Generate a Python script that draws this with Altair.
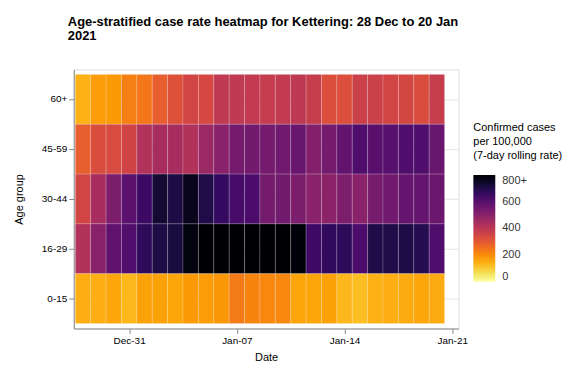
import altair as alt
import pandas as pd

dates = ["2020-12-28", "2020-12-29", "2020-12-30", "2020-12-31",
         "2021-01-01", "2021-01-02", "2021-01-03", "2021-01-04", "2021-01-05",
         "2021-01-06", "2021-01-07", "2021-01-08", "2021-01-09", "2021-01-10",
         "2021-01-11", "2021-01-12", "2021-01-13", "2021-01-14", "2021-01-15",
         "2021-01-16", "2021-01-17", "2021-01-18", "2021-01-19", "2021-01-20"]

age_groups = ["60+", "45-59", "30-44", "16-29", "0-15"]

rate_60 = [140, 175, 180, 225, 240, 290, 320, 350, 340, 390, 390, 385,
           380, 385, 395, 375, 325, 325, 365, 365, 350, 345, 330, 375]
rate_45 = [290, 330, 335, 355, 420, 440, 440, 420, 465, 500, 540, 545,
           540, 550, 565, 510, 540, 580, 615, 595, 600, 615, 615, 565]
rate_30 = [350, 440, 525, 590, 650, 730, 705, 760, 700, 665, 630, 620,
           540, 545, 525, 500, 495, 525, 500, 535, 550, 570, 570, 560]
rate_16 = [420, 505, 585, 610, 675, 705, 715, 780, 850, 860, 870, 880,
           870, 860, 790, 645, 670, 675, 620, 700, 700, 705, 690, 615]
rate_0 = [145, 145, 158, 130, 165, 165, 160, 180, 175, 185, 235, 215,
          210, 210, 160, 160, 165, 130, 120, 140, 145, 150, 158, 150]

tick_days = [3, 10, 17, 24]
tick_labels = ["Dec-31", "Jan-07", "Jan-14", "Jan-21"]

series = {"60+": rate_60, "45-59": rate_45, "30-44": rate_30,
          "16-29": rate_16, "0-15": rate_0}

start = pd.Timestamp(dates[0])
rows = []
for grp, vals in series.items():
    for d, v in zip(dates, vals):
        day = (pd.Timestamp(d) - start).days
        rows.append({"age": grp, "date": d, "day0": day - 0.5,
                     "day1": day + 0.5, "rate": v})
df = pd.DataFrame(rows)

label_expr = "{" + ",".join(f"'{t}':'{l}'" for t, l in zip(tick_days, tick_labels)) + "}[datum.value]"

FONT = "Liberation Sans"

chart = alt.Chart(df).mark_rect(
    stroke="white", strokeWidth=0.6, strokeOpacity=0.3
).encode(
    x=alt.X("day0:Q",
            scale=alt.Scale(domain=[-0.6, 24.4], nice=False, zero=False),
            axis=alt.Axis(title="Date", values=tick_days, labelExpr=label_expr,
                          grid=False, titlePadding=6, zindex=0,
                          titleFontWeight="normal")),
    x2="day1:Q",
    y=alt.Y("age:N", sort=age_groups,
            scale=alt.Scale(paddingInner=0, paddingOuter=0.1),
            axis=alt.Axis(title="Age group", grid=True, gridColor="#EBEBE6",
                          gridWidth=1.2, titlePadding=17, zindex=0,
                          titleFontWeight="normal")),
    color=alt.Color("rate:Q",
                    scale=alt.Scale(scheme="inferno", reverse=True,
                                    domain=[0, 800], clamp=True),
                    legend=alt.Legend(
                        title=["Confirmed cases", "\u00a0per 100,000",
                               "\u00a0(7-day rolling rate)"],
                        values=[0, 200, 400, 600, 800],
                        labelExpr="datum.value == 800 ? '800+' : datum.label",
                        orient="none", legendX=401, legendY=53,
                        gradientLength=107, gradientThickness=22,
                        titlePadding=14, labelOffset=7,
                        titleFontSize=11, titleFontWeight="normal",
                        titleFont=FONT, labelFont=FONT, labelFontSize=11,
                        titleColor="black", labelColor="#333333",
                        gradientStrokeWidth=0, titleLineHeight=14)),
    tooltip=["age:N", "date:N", "rate:Q"]
).properties(
    width=386, height=260,
    title=alt.TitleParams(
        ["Age-stratified case rate heatmap for Kettering: 28 Dec to 20 Jan", "2021"],
        anchor="start", frame="group", dx=-6, offset=27,
        font=FONT, fontSize=13, fontWeight="bold", color="black", lineHeight=14),
    padding={"left": 66, "top": 61, "right": 115, "bottom": 40},
    autosize="none"
).configure_view(
    stroke=None
).configure_axis(
    labelFont=FONT, titleFont=FONT, labelFontSize=11, titleFontSize=13,
    labelColor="#444444", titleColor="black", titleFontWeight="normal",
    domainColor="black", domainWidth=1, tickColor="#333333", tickSize=3.5,
    labelPadding=2
).configure(background="white")

chart.save("out.html", embed_options={"renderer": "svg", "actions": False})
